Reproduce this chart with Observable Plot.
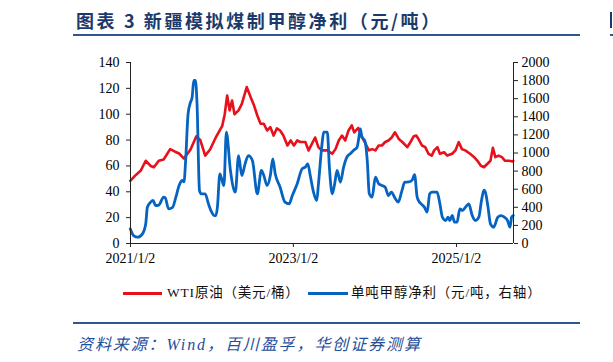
<!DOCTYPE html>
<html><head><meta charset="utf-8">
<script src="https://cdn.jsdelivr.net/npm/d3@7"></script>
<script src="https://cdn.jsdelivr.net/npm/@observablehq/plot@0.6"></script>
<style>
html,body{margin:0;padding:0;background:#fff}
body{width:613px;height:362px;overflow:hidden;position:relative;font-family:"Liberation Serif","Noto Sans CJK SC",serif}
#title{position:absolute;left:76px;top:11px;font-family:"Noto Sans CJK SC";font-weight:bold;font-size:18px;line-height:18px;color:#1B3A6B;white-space:nowrap;letter-spacing:2.6px}
.rule{position:absolute;height:2px;background:#2F5597}
#chart{position:absolute;left:0;top:40px}
.lg{position:absolute;height:3px}
.lt{position:absolute;font-size:13.5px;line-height:14px;white-space:nowrap;color:#111;letter-spacing:0.8px}
#caption{position:absolute;left:77px;top:337px;font-family:"Liberation Serif","Noto Sans CJK SC";font-style:italic;font-size:16px;line-height:16px;color:#1F4E9A;white-space:nowrap;letter-spacing:1.9px}
</style></head>
<body>
<div id="title">图表 3 新疆模拟煤制甲醇净利（元/吨）</div>
<div class="rule" style="left:73px;top:34px;width:507px"></div>
<div class="rule" style="left:610px;top:34px;width:3px"></div>
<div style="position:absolute;left:610px;top:12px;width:2px;height:16px;background:#1B3A6B"></div>
<div id="chart"></div>
<div class="lg" style="left:123px;top:292px;width:39px;background:#E8101A"></div>
<div class="lt" style="left:167px;top:286px">WTI原油（美元/桶）</div>
<div class="lg" style="left:308px;top:292px;width:40px;background:#0563C1"></div>
<div class="lt" style="left:351px;top:286px">单吨甲醇净利（元/吨，右轴）</div>
<div class="rule" style="left:73px;top:322px;width:507px"></div>
<div id="caption">资料来源：Wind，百川盈孚，华创证券测算</div>
<script>
// WTI crude (USD/bbl), left axis; time in decimal years
const wtiTime = [2021.00,2021.06,2021.13,2021.19,2021.25,2021.29,2021.35,2021.41,2021.49,2021.55,2021.60,2021.66,2021.74,2021.81,2021.86,2021.92,2021.98,
2022.05,2022.13,2022.16,2022.19,2022.22,2022.25,2022.28,2022.33,2022.37,2022.43,2022.48,2022.52,2022.56,2022.60,2022.64,2022.68,2022.72,2022.76,2022.80,2022.84,2022.88,2022.93,2022.97,
2023.01,2023.05,2023.09,2023.15,2023.19,2023.23,2023.27,2023.31,2023.35,2023.42,2023.48,2023.52,2023.56,2023.60,2023.64,2023.68,2023.72,2023.75,2023.80,2023.85,2023.89,2023.93,2023.97,
2024.01,2024.05,2024.09,2024.13,2024.17,2024.21,2024.25,2024.30,2024.34,2024.40,2024.44,2024.48,2024.51,2024.54,2024.58,2024.62,2024.66,2024.70,2024.73,2024.77,2024.80,2024.85,2024.89,2024.95,2024.99,
2025.03,2025.07,2025.11,2025.17,2025.22,2025.26,2025.30,2025.34,2025.38,2025.42,2025.45,2025.48,2025.52,2025.56,2025.60,2025.65,2025.69,2025.70];
const wtiValue = [48.5,52.5,56.5,64,60,59,64,65,73,71,69.6,65.7,72.7,82.8,80,68,72.7,
82,91,100,114.5,103,110.6,100,103,108,121,113,106.7,99,92.6,92.6,87.4,90,83.5,89,87.4,83.5,75.8,79.7,
75.8,79.7,78.5,78.5,72,77,82,74.5,72,72,69.4,73,79.7,83.5,79.7,87.4,91.3,86,89.4,81.8,77,72,73,
72,75.8,75.8,78.5,79.7,82,86,80.6,78.5,74.5,78.5,83,83.5,80.6,75.8,74.5,69.4,68,72,74.5,69.4,70.6,68,69.4,72,
78.4,73,72,69.4,66.8,64,60.3,59,61.5,64,74,66.8,68,66.8,64,64,63.5,64];

// Methanol net profit (CNY/t), right axis
const profitTime = [2021.00,2021.04,2021.09,2021.15,2021.19,2021.21,2021.25,2021.28,2021.31,2021.35,2021.41,2021.43,2021.47,2021.52,2021.56,2021.60,2021.64,2021.66,2021.68,2021.71,2021.74,2021.76,2021.78,2021.80,2021.82,2021.85,2021.87,2021.92,2021.96,
2022.00,2022.03,2022.05,2022.07,2022.10,2022.12,2022.15,2022.18,2022.23,2022.29,2022.33,2022.37,2022.41,2022.45,2022.50,2022.56,2022.61,2022.64,2022.68,2022.72,2022.75,2022.78,2022.84,2022.90,2022.95,2022.99,
2023.05,2023.11,2023.15,2023.18,2023.21,2023.25,2023.29,2023.31,2023.355,2023.375,2023.42,2023.445,2023.48,2023.51,2023.54,2023.58,2023.62,2023.66,2023.70,2023.74,2023.785,2023.805,2023.825,2023.845,2023.88,2023.91,2023.935,2023.97,
2024.01,2024.05,2024.09,2024.13,2024.17,2024.205,2024.255,2024.29,2024.33,2024.37,2024.42,2024.46,2024.49,2024.52,2024.54,2024.57,2024.61,2024.644,2024.675,2024.705,2024.765,2024.80,2024.83,2024.87,2024.90,2024.92,2024.95,2024.98,
2025.01,2025.044,2025.077,2025.114,2025.154,2025.196,2025.236,2025.277,2025.31,2025.34,2025.36,2025.39,2025.42,2025.46,2025.51,2025.55,2025.59,2025.63,2025.66,2025.68,2025.70];
const profitValue = [162,88,70,107,218,401,457,475,420,425,512,505,383,400,512,641,696,680,917,1433,1561,1617,1801,1801,1544,586,549,549,438,
346,309,309,400,770,720,641,1230,807,567,972,751,880,972,917,549,807,751,641,751,936,770,622,457,438,530,
660,825,844,880,751,567,475,650,1102,1230,1230,843,549,660,807,677,844,954,991,1028,1064,1157,1267,1175,1138,917,549,512,
733,660,641,622,530,567,494,457,567,677,680,700,760,520,470,438,402,346,549,567,567,438,291,254,291,254,310,236,
236,383,365,402,438,309,254,291,475,590,560,402,217,180,291,309,291,254,180,291,309];

const leftTicks = [0,20,40,60,80,100,120,140];
const rightTicks = [0,200,400,600,800,1000,1200,1400,1600,1800,2000];
const xTickLabels = ["2021/1/2","2023/1/2","2025/1/2"];
const xStart = 2021.003, xEnd = 2025.703;

function toDate(t){
  const y = Math.floor(t);
  const a = new Date(y,0,1).getTime(), b = new Date(y+1,0,1).getTime();
  return new Date(a + (t - y) * (b - a));
}
const parseLabel = s => { const [y,m,d] = s.split("/").map(Number); return new Date(y, m-1, d); };
const fmtLabel = d => `${d.getFullYear()}/${d.getMonth()+1}/${d.getDate()}`;

const leftMax = 140, rightMax = 2000;
const toLeft = v => v * leftMax / rightMax;

const wti = wtiTime.map((t,i) => ({date: toDate(t), v: wtiValue[i]}));
const profit = profitTime.map((t,i) => ({date: toDate(t), v: profitValue[i]}));
const x0 = toDate(xStart), x1 = toDate(xEnd);

const chart = Plot.plot({
  width: 613, height: 230,
  marginLeft: 130, marginRight: 100, marginTop: 22, marginBottom: 27,
  x: {type: "time", domain: [x0, x1]},
  y: {domain: [0, leftMax]},
  style: {fontFamily: "'Liberation Serif', serif", fontSize: "14px", color: "#000", background: "transparent", overflow: "visible"},
  marks: [
    Plot.line(wti, {x: "date", y: "v", stroke: "#E8101A", strokeWidth: 2.6, strokeLinejoin: "round"}),
    Plot.line(profit, {x: "date", y: d => toLeft(d.v), stroke: "#0563C1", strokeWidth: 2.8, strokeLinejoin: "round", curve: "monotone-x"}),
    Plot.ruleX([x0], {stroke: "#222"}),
    Plot.ruleX([x1], {stroke: "#222"}),
    Plot.ruleY([0], {stroke: "#222"}),
    Plot.axisY(leftTicks, {anchor: "left", tickSize: 4, tickPadding: 7, label: null, stroke: "#222"}),
    Plot.axisY(rightTicks.map(toLeft), {anchor: "right", tickSize: 4, tickPadding: 4, label: null, tickFormat: d => String(Math.round(d * rightMax / leftMax)), stroke: "#222"}),
    Plot.axisX(xTickLabels.map(parseLabel), {anchor: "bottom", tickSize: 4, tickPadding: 6, label: null, tickFormat: fmtLabel, stroke: "#222"})
  ]
});
document.getElementById("chart").appendChild(chart);
</script>
</body></html>
